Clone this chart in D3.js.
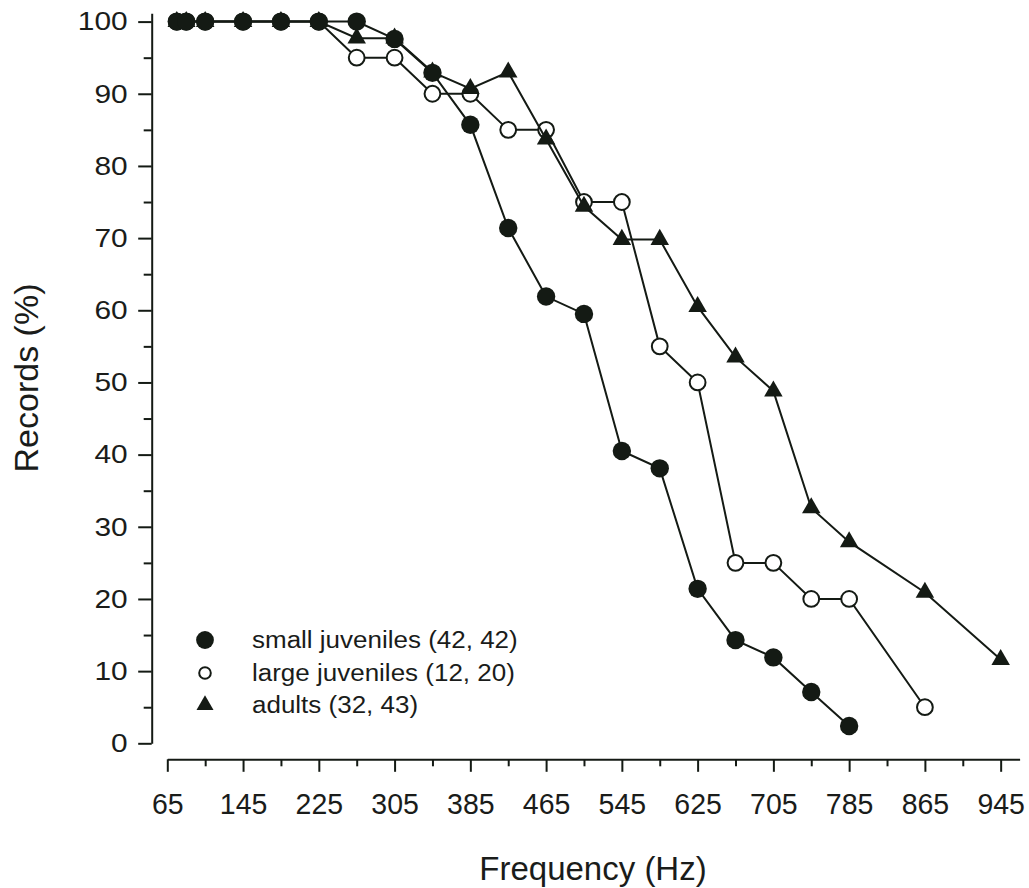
<!DOCTYPE html>
<html>
<head>
<meta charset="utf-8">
<script src="https://cdn.jsdelivr.net/npm/d3@7"></script>
<style>
  html, body { margin: 0; padding: 0; background: #fff; }
  text { font-family: "Liberation Sans", Arial, sans-serif; fill: #1a1c1a; }
</style>
</head>
<body>
<div id="chart"></div>
<script>
// Frequencies (Hz) and percentage of records for each group
const freqSmall = [75, 85, 105, 145, 185, 225, 265, 305, 345, 385, 425, 465, 505, 545, 585, 625, 665, 705, 745, 785];
const small = [100, 100, 100, 100, 100, 100, 100, 97.6, 92.9, 85.7, 71.4, 61.9, 59.5, 40.5, 38.1, 21.4, 14.3, 11.9, 7.1, 2.4];

const freqLarge = [75, 85, 105, 145, 185, 225, 265, 305, 345, 385, 425, 465, 505, 545, 585, 625, 665, 705, 745, 785, 865];
const large = [100, 100, 100, 100, 100, 100, 95, 95, 90, 90, 85, 85, 75, 75, 55, 50, 25, 25, 20, 20, 5];

const freqAdults = [75, 85, 105, 145, 185, 225, 265, 305, 345, 385, 425, 465, 505, 545, 585, 625, 665, 705, 745, 785, 865, 945];
const adults = [100, 100, 100, 100, 100, 100, 97.7, 97.7, 93.0, 90.7, 93.0, 83.7, 74.4, 69.8, 69.8, 60.5, 53.5, 48.8, 32.6, 27.9, 20.9, 11.6];

const legendLabels = ['small juveniles (42, 42)', 'large juveniles (12, 20)', 'adults (32, 43)'];

const xTicks = [65, 145, 225, 305, 385, 465, 545, 625, 705, 785, 865, 945];
const xMinorTicks = [105, 185, 265, 345, 425, 505, 585, 665, 745, 825, 905];
const yTicks = [0, 10, 20, 30, 40, 50, 60, 70, 80, 90, 100];
const yMinorTicks = [5, 15, 25, 35, 45, 55, 65, 75, 85, 95];

const width = 1029, height = 888;
const ink = '#141a14';

const svg = d3.select('#chart').append('svg')
  .attr('width', width)
  .attr('height', height)
  .attr('viewBox', `0,0,${width},${height}`);

const x = d3.scaleLinear().domain([65, 965]).range([167.3, 1019.6]);
const y = d3.scaleLinear().domain([0, 101.15]).range([743.3, 13.3]);

// x axis (offset below the plot)
const xAxisY = 759.3;
svg.append('g')
  .attr('transform', `translate(0,${xAxisY})`)
  .call(d3.axisBottom(x).tickValues(xMinorTicks).tickSize(7).tickSizeOuter(0).tickFormat(''))
  .call(g => g.select('.domain').remove());
svg.append('g')
  .attr('transform', `translate(0,${xAxisY})`)
  .call(d3.axisBottom(x).tickValues(xTicks).tickSize(12.5).tickSizeOuter(0).tickPadding(21))
  .call(g => g.select('.domain').attr('stroke', ink).attr('stroke-width', 2))
  .call(g => g.selectAll('.tick text')
    .attr('font-size', 30).attr('font-family', null).attr('fill', null)
    .attr('transform', 'scale(0.95,1)'));
svg.selectAll('.tick line').attr('stroke', ink).attr('stroke-width', 2);

// y axis
const yAxisX = 151.7;
svg.append('g')
  .attr('transform', `translate(${yAxisX},0)`)
  .call(d3.axisLeft(y).tickValues(yMinorTicks).tickSize(8).tickSizeOuter(0).tickFormat(''))
  .call(g => g.select('.domain').remove())
  .call(g => g.selectAll('.tick line').attr('stroke', ink).attr('stroke-width', 2));
svg.append('g')
  .attr('transform', `translate(${yAxisX},0)`)
  .call(d3.axisLeft(y).tickValues(yTicks).tickSize(13.5).tickSizeOuter(0).tickPadding(10))
  .call(g => g.select('.domain').attr('stroke', ink).attr('stroke-width', 2))
  .call(g => g.selectAll('.tick line').attr('stroke', ink).attr('stroke-width', 2))
  .call(g => g.selectAll('.tick text')
    .attr('font-size', 26).attr('font-family', null).attr('fill', null)
    .attr('x', 0)
    .attr('transform', 'translate(-24,0) scale(1.15,1)'));

// axis titles
svg.append('text')
  .attr('x', 593).attr('y', 880)
  .attr('text-anchor', 'middle')
  .attr('font-size', 33)
  .text('Frequency (Hz)');
svg.append('text')
  .attr('transform', 'translate(38,378) rotate(-90)')
  .attr('text-anchor', 'middle')
  .attr('font-size', 34)
  .text('Records (%)');

// series: drawn open circles first, then triangles, then filled circles on top
const series = [
  {f: freqLarge, v: large, type: 'open'},
  {f: freqAdults, v: adults, type: 'tri'},
  {f: freqSmall, v: small, type: 'filled'}
];

const line = d3.line().x(d => x(d[0])).y(d => y(d[1]));
const triSide = 18.5;
const triArea = triSide * triSide * Math.sqrt(3) / 4;

series.forEach(s => {
  const pts = s.f.map((f, i) => [f, s.v[i]]);
  const g = svg.append('g');
  g.append('path')
    .attr('d', line(pts))
    .attr('fill', 'none')
    .attr('stroke', ink)
    .attr('stroke-width', 2);
  if (s.type === 'tri') {
    g.selectAll('path.m').data(pts).join('path')
      .attr('class', 'm')
      .attr('transform', d => `translate(${x(d[0])},${y(d[1])})`)
      .attr('d', d3.symbol(d3.symbolTriangle, triArea))
      .attr('fill', ink);
  } else {
    g.selectAll('circle').data(pts).join('circle')
      .attr('cx', d => x(d[0]))
      .attr('cy', d => y(d[1]))
      .attr('r', s.type === 'open' ? 7.9 : 9.2)
      .attr('fill', s.type === 'open' ? '#fff' : ink)
      .attr('stroke', s.type === 'open' ? ink : 'none')
      .attr('stroke-width', 2);
  }
});

// legend
const legend = svg.append('g').attr('transform', 'translate(205,0)');
const legendRows = [
  {label: legendLabels[0], type: 'filled', cy: 640},
  {label: legendLabels[1], type: 'open', cy: 673},
  {label: legendLabels[2], type: 'tri', cy: 705}
];
legendRows.forEach(r => {
  if (r.type === 'tri') {
    legend.append('path')
      .attr('transform', `translate(0,${r.cy})`)
      .attr('d', d3.symbol(d3.symbolTriangle, 17 * 17 * Math.sqrt(3) / 4))
      .attr('fill', ink);
  } else {
    legend.append('circle')
      .attr('cx', 0).attr('cy', r.cy)
      .attr('r', r.type === 'open' ? 5.8 : 8.9)
      .attr('fill', r.type === 'open' ? '#fff' : ink)
      .attr('stroke', r.type === 'open' ? ink : 'none')
      .attr('stroke-width', 2);
  }
  legend.append('text')
    .attr('transform', `translate(47,${r.cy + 8}) scale(1.13,1)`)
    .attr('font-size', 23)
    .text(r.label);
});
</script>
</body>
</html>
